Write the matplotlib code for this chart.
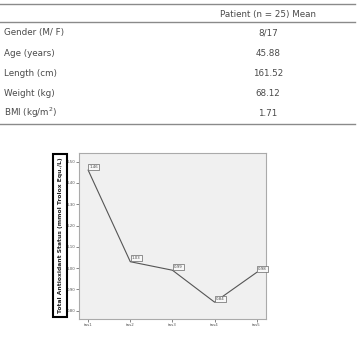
import matplotlib.pyplot as plt
from matplotlib.lines import Line2D
from matplotlib.patches import Rectangle

row_names = ['Gender (M/ F)', 'Age (years)', 'Length (cm)', 'Weight (kg)', 'BMI (kg/m$^2$)']
row_values = ['8/17', '45.88', '161.52', '68.12', '1.71']
header = 'Patient (n = 25) Mean'

groups = ['tas1', 'tas2', 'tas3', 'tas4', 'tas5']
tas_mean = [1.46, 1.03, 0.99, 0.84, 0.98]
yticks = [0.80, 0.90, 1.00, 1.10, 1.20, 1.30, 1.40, 1.50]

W, H = 362, 343
fig = plt.figure(figsize=(W/100, H/100), dpi=100)
fig.patch.set_facecolor('white')

def fx(px):
    return px / W

def fy(py):
    return 1 - py / H

# table part
txtc = '#4a4a4a'
linec = '#8a8a8a'
for yy in [3.5, 22, 124]:
    fig.add_artist(Line2D([fx(0), fx(355)], [fy(yy), fy(yy)], color=linec, lw=1.0))
fig.text(fx(268), fy(14), header, ha='center', va='center', fontsize=6.3, color=txtc)
row_y = [33, 53, 73, 93, 113]
for name, val, yy in zip(row_names, row_values, row_y):
    fig.text(fx(4), fy(yy), name, ha='left', va='center', fontsize=6.3, color=txtc)
    fig.text(fx(268), fy(yy), val, ha='center', va='center', fontsize=6.3, color=txtc)

# chart part
ax = fig.add_axes([fx(79.3), fy(319), fx(266) - fx(79.3), fy(153.3) - fy(319)])
ax.set_facecolor('#f0f0f0')
x = list(range(1, len(groups) + 1))
ax.plot(x, tas_mean, color='#555555', lw=0.8)
for xi, v in zip(x, tas_mean):
    ax.annotate('%.2f' % v, (xi, v), xytext=(1, 1), textcoords='offset points',
                ha='left', va='bottom', fontsize=2.8, color='#444444',
                bbox=dict(boxstyle='square,pad=0.3', fc='#f8f8f8', ec='#666666', lw=0.5))
ax.set_xlim(0.79, 5.22)
ax.set_ylim(0.761, 1.539)
ax.set_xticks(x)
ax.set_xticklabels(groups)
ax.set_yticks(yticks)
ax.set_yticklabels(['%.2f' % t for t in yticks])
ax.tick_params(labelsize=2.9, colors='#555555', length=2, width=0.5, pad=1)
for s in ax.spines.values():
    s.set_color('#aaaaaa')
    s.set_linewidth(0.8)

# boxed y label
fig.add_artist(Rectangle((fx(53), fy(317)), fx(67) - fx(53), fy(154) - fy(317),
                         fill=False, ec='black', lw=1.5))
fig.text(fx(60.5), fy(235.5), 'Total Antioxidant Status (mmol Trolox Equ./L)',
         rotation=90, ha='center', va='center', fontsize=4.3, color='#222222',
         fontweight='semibold')

fig.savefig('out.png', dpi=100)
